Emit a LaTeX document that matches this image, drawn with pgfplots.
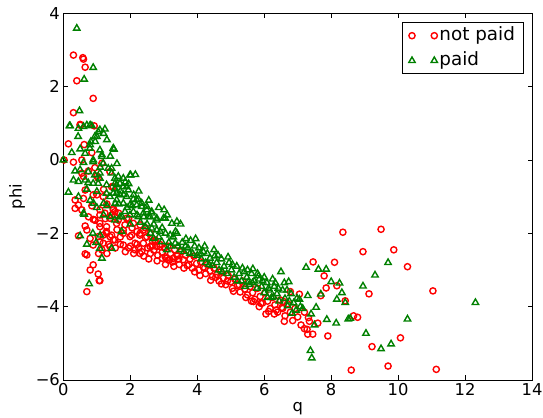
\documentclass[border=0pt]{standalone}
\usepackage{fontspec}
\setmainfont{DejaVu Sans}
\usepackage{pgfplots}
\pgfplotsset{compat=1.18}
\definecolor{mgreen}{RGB}{0,128,0}
\definecolor{mred}{RGB}{255,0,0}
\begin{document}
\begin{tikzpicture}
\useasboundingbox (0bp,0bp) rectangle (543bp,418bp);
\begin{axis}[
  at={(63.4bp,38bp)}, anchor=south west,
  scale only axis, width=468.6bp, height=366.7bp,
  xmin=0, xmax=14, ymin=-6, ymax=4,
  xtick={0,2,4,6,8,10,12,14},
  ytick={-6,-4,-2,0,2,4},
  yticklabels={−6,−4,−2,0,2,4},
  /pgf/number format/assume math mode=true,
  tick label style={font=\fontsize{16.4}{19}\selectfont},
  label style={font=\fontsize{16.4}{19}\selectfont},
  ylabel style={xshift=0bp, yshift=4bp},
  major tick length=4.5bp,
  tick style={black, line width=0.8bp},
  axis line style={black, line width=0.9bp},
  xlabel={q}, ylabel={phi},
  legend style={at={(0.9815,0.9755)}, anchor=north east, draw=black, line width=0.8bp,
    fill=white, font=\fontsize{18.4}{22}\selectfont, inner xsep=6bp, inner ysep=0.5bp,
    nodes={inner ysep=3bp, text height=14bp, text depth=5bp},
    legend cell align=left},
  legend image code/.code={\draw[#1] plot coordinates {(0bp,0bp) (22.3bp,0bp)};},
]
\addplot[only marks, mark=o, mark size=3.1bp, mark options={draw=mred, line width=1.4bp, fill=none}] table {
0.30 2.86
0.58 2.79
0.60 2.75
0.65 2.53
0.40 2.16
0.89 1.68
0.30 1.29
0.50 0.97
0.92 0.93
0.15 0.44
0.02 0.00
0.30 -0.06
0.55 0.00
0.94 -0.21
0.55 -0.36
1.00 -0.44
0.65 -0.82
0.35 -1.09
0.45 -1.23
0.55 -1.36
1.00 -0.95
0.89 -1.62
1.09 -1.50
0.70 -1.91
0.45 -2.07
0.80 -2.14
0.89 -2.32
1.04 -2.09
1.19 -2.27
1.49 -2.18
2.14 -2.45
2.34 -2.50
0.70 -2.59
0.89 -2.86
0.80 -3.00
1.04 -3.11
1.09 -3.29
0.70 -3.59
1.49 -1.32
1.64 -1.64
1.89 -1.59
2.39 -1.91
2.59 -2.00
2.74 -2.18
2.79 -2.36
1.79 -1.91
1.29 -1.82
1.29 -2.00
1.79 -2.32
1.99 -2.09
1.39 -2.09
1.09 -1.73
0.94 -1.64
0.35 -1.32
0.94 -1.64
1.19 -2.05
1.44 -2.05
1.09 -2.23
1.39 -2.36
1.54 -2.18
0.65 -2.56
1.07 -3.29
1.09 -1.36
1.24 -1.45
1.39 -1.59
1.54 -1.41
1.09 -1.82
1.29 -1.95
0.50 0.95
1.15 -0.09
0.60 -0.45
1.39 -0.32
1.49 -0.73
1.04 -0.50
0.60 -1.05
0.89 -0.95
1.19 -1.00
1.44 -0.73
1.49 -1.36
1.44 -1.50
1.59 -1.73
1.84 -1.77
2.09 -1.73
2.29 -1.77
1.79 -2.00
2.04 -2.05
2.29 -2.00
2.49 -2.09
2.14 -2.27
2.39 -2.27
2.59 -2.36
2.74 -2.23
2.89 -2.36
2.29 -2.55
3.04 -2.64
3.14 -2.73
3.29 -2.68
3.39 -2.59
1.54 -1.55
2.45 -2.12
2.52 -2.40
2.60 -2.55
2.66 -2.21
2.70 -2.46
2.82 -2.60
2.88 -2.30
2.95 -2.52
3.02 -2.40
3.08 -2.68
3.12 -2.35
3.20 -2.55
3.26 -2.78
3.32 -2.45
3.40 -2.62
3.46 -2.85
3.52 -2.50
3.58 -2.72
3.65 -2.60
3.70 -2.88
3.78 -2.70
3.85 -2.95
3.90 -2.62
3.98 -2.82
4.05 -3.00
4.10 -2.78
4.18 -2.92
4.25 -3.10
4.30 -2.85
4.38 -3.02
4.45 -3.18
4.50 -2.95
4.58 -3.12
4.65 -3.30
4.70 -3.05
4.78 -3.22
4.85 -3.40
4.92 -3.15
5.00 -3.32
5.05 -3.50
5.12 -3.25
5.20 -3.42
5.28 -3.60
5.35 -3.30
5.42 -3.52
5.50 -3.68
5.58 -3.45
5.65 -3.62
5.72 -3.80
5.80 -3.50
5.88 -3.72
5.95 -3.90
6.02 -3.62
6.10 -3.85
6.18 -4.05
6.25 -3.75
6.32 -3.95
6.40 -4.15
6.48 -3.82
6.55 -4.05
6.62 -4.25
6.70 -3.92
6.78 -4.15
6.85 -4.38
6.92 -4.05
7.00 -4.28
7.10 -4.50
7.20 -4.15
7.28 -4.62
7.35 -4.40
7.45 -4.75
2.20 -2.30
2.28 -2.05
1.95 -2.40
2.05 -1.85
1.70 -2.10
1.60 -1.90
1.35 -2.30
1.15 -2.45
1.25 -1.60
1.30 -1.20
1.20 -0.80
0.75 -1.55
0.85 -1.25
0.65 -1.80
0.75 -0.30
0.85 0.20
0.62 0.42
1.55 -2.40
1.70 -2.30
1.85 -2.50
2.00 -2.35
2.10 -2.55
2.25 -2.40
2.40 -2.62
2.55 -2.70
2.65 -2.35
2.80 -2.75
2.95 -2.68
3.05 -2.85
3.18 -2.72
3.30 -2.90
3.45 -2.70
3.60 -2.95
3.75 -2.85
3.92 -3.05
4.08 -3.15
4.22 -2.95
4.40 -3.28
4.55 -3.20
4.72 -3.38
4.90 -3.30
5.08 -3.58
5.25 -3.40
5.45 -3.75
5.62 -3.85
5.85 -4.00
6.05 -4.20
6.30 -4.20
6.60 -4.40
1.95 -1.60
2.20 -1.95
2.45 -1.85
1.65 -1.45
1.05 -2.55
1.30 -2.55
7.46 -2.78
8.10 -2.79
7.79 -3.16
7.85 -3.49
8.17 -3.43
7.69 -3.70
6.78 -3.59
7.05 -3.66
6.58 -3.86
5.68 -3.86
5.90 -3.91
6.13 -4.13
6.36 -4.09
6.53 -4.02
7.32 -4.30
7.20 -4.60
7.30 -4.75
7.90 -4.80
7.60 -4.45
8.35 -1.97
9.49 -1.89
8.95 -2.50
9.87 -2.45
10.28 -2.91
11.04 -3.57
9.13 -3.65
8.42 -3.84
8.67 -4.25
8.79 -4.29
10.07 -4.85
9.22 -5.09
8.60 -5.73
9.70 -5.62
11.14 -5.71
};
\addlegendentry{not paid}
\addplot[only marks, mark=triangle, mark size=3.7bp, mark options={draw=mgreen, line width=1.4bp, fill=none}] table {
0.40 3.59
0.89 2.52
0.62 2.20
0.48 1.34
0.18 0.93
0.60 0.91
0.80 0.95
1.04 0.77
1.24 0.84
0.44 0.64
0.94 0.64
0.77 -3.38
0.50 -2.07
1.09 -2.41
1.44 -2.41
0.62 -1.48
0.15 -0.88
0.00 0.00
0.80 0.41
1.20 0.72
1.09 0.27
1.15 0.14
1.49 0.32
0.65 0.18
0.60 -0.07
0.89 -0.05
1.19 -0.09
1.34 -0.23
1.44 -0.36
1.54 -0.50
1.79 -0.50
1.99 -0.41
1.69 -0.64
1.89 -0.73
0.74 -0.62
0.89 -0.64
1.09 -0.50
0.45 -0.59
1.94 -0.82
2.19 -1.09
2.34 -1.18
2.49 -1.36
2.64 -1.45
2.79 -1.59
2.79 -1.91
1.15 -2.68
0.60 -1.45
0.90 -1.18
1.20 -1.18
1.55 -1.18
1.54 -1.64
0.20 0.93
0.45 0.86
0.70 0.95
0.85 0.93
1.09 0.82
1.00 0.64
0.82 0.50
0.79 0.32
1.15 0.09
0.89 0.00
0.50 -0.27
0.74 -0.32
0.94 -0.41
1.09 -0.36
0.65 -0.55
1.04 -0.64
1.29 -0.68
1.54 -0.64
1.54 -0.78
1.00 -0.86
1.29 -0.91
0.45 -1.00
1.39 -1.00
1.59 -0.91
1.51 0.29
1.44 -0.23
1.64 -0.45
2.01 -0.41
1.59 -0.68
1.79 -0.73
1.49 -0.91
1.69 -0.95
1.89 -1.00
2.09 -1.07
2.24 -1.07
1.59 -1.09
1.79 -1.18
1.99 -1.23
2.19 -1.23
2.34 -1.27
2.49 -1.27
2.64 -1.41
3.01 -1.36
2.99 -1.59
1.84 -1.41
2.09 -1.41
2.39 -1.45
1.69 -1.55
1.99 -1.50
2.24 -1.55
2.54 -1.55
2.59 -1.55
2.79 -1.64
3.04 -1.59
3.24 -1.73
3.39 -1.68
2.44 -1.82
2.64 -1.86
2.89 -1.95
3.19 -2.05
3.39 -2.00
1.74 -1.95
2.69 -2.14
2.94 -2.23
3.34 -2.27
3.49 -2.45
3.09 -2.45
2.50 -1.75
2.60 -2.00
2.85 -2.10
3.05 -2.00
3.15 -2.25
3.28 -2.10
3.42 -2.35
3.55 -2.25
3.60 -2.50
3.66 -2.15
3.72 -2.40
3.80 -2.20
3.86 -2.55
3.92 -2.35
4.00 -2.60
4.05 -2.40
4.12 -2.70
4.18 -2.50
4.25 -2.80
4.30 -2.55
4.38 -2.68
4.45 -2.88
4.52 -2.62
4.58 -2.80
4.65 -3.00
4.72 -2.70
4.80 -2.90
4.88 -3.10
4.95 -2.80
5.02 -3.00
5.10 -3.20
5.18 -2.90
5.25 -3.10
5.32 -3.30
5.40 -3.05
5.48 -3.20
5.55 -3.40
5.62 -3.10
5.70 -3.30
5.78 -3.50
5.85 -3.25
5.92 -3.45
6.00 -3.62
6.08 -3.35
6.15 -3.55
6.22 -3.75
6.30 -3.45
6.38 -3.65
6.45 -3.85
6.55 -3.55
6.62 -3.78
6.70 -3.98
6.80 -3.65
6.88 -3.90
6.95 -4.10
7.05 -3.80
7.15 -4.05
7.30 -3.70
7.40 -4.20
7.50 -4.50
7.38 -5.20
7.42 -5.40
8.15 -4.45
2.10 -0.95
2.20 -1.50
2.30 -1.70
1.90 -1.30
2.00 -1.75
1.75 -1.55
1.85 -0.60
1.70 -0.85
1.30 -1.25
1.20 -1.50
1.00 -1.30
0.80 -1.10
0.70 -0.80
0.30 -0.55
0.35 -0.30
0.25 0.20
0.50 0.30
0.95 0.50
1.30 0.55
1.40 0.10
1.10 -0.20
1.60 -0.10
0.88 -2.00
0.98 -2.25
1.10 -2.05
1.65 -1.20
1.80 -0.95
1.95 -0.65
2.05 -1.25
2.25 -0.85
2.40 -1.55
2.55 -1.10
2.70 -1.75
2.85 -1.30
2.95 -1.85
3.10 -1.50
3.20 -2.35
3.35 -1.95
3.50 -1.75
3.65 -2.35
3.78 -2.55
3.95 -2.15
4.10 -2.55
4.22 -2.35
4.35 -2.85
4.50 -2.45
4.62 -2.60
4.75 -3.05
4.92 -2.65
5.05 -2.85
5.20 -3.30
5.35 -2.95
5.50 -3.00
5.65 -3.35
5.80 -3.10
5.95 -3.30
6.10 -3.75
6.25 -3.25
6.42 -3.50
6.60 -3.35
6.75 -3.85
2.15 -0.40
1.40 -1.55
0.70 -2.30
5.66 -2.97
5.83 -3.16
6.00 -3.20
6.50 -3.05
7.25 -2.93
7.62 -2.98
7.85 -2.98
8.00 -3.32
8.25 -3.36
8.32 -3.62
8.17 -3.80
8.42 -3.89
7.69 -3.66
6.73 -3.32
6.68 -3.55
6.33 -3.35
6.13 -3.50
5.53 -3.32
5.43 -3.45
6.28 -3.73
6.98 -3.77
7.08 -4.00
7.55 -4.02
6.83 -4.18
7.87 -4.35
8.57 -4.32
8.51 -4.34
9.70 -2.80
9.31 -3.14
8.95 -3.44
10.28 -4.34
9.04 -4.73
9.49 -5.15
9.79 -5.02
12.31 -3.89
};
\addlegendentry{paid}
\end{axis}
\end{tikzpicture}
\end{document}
